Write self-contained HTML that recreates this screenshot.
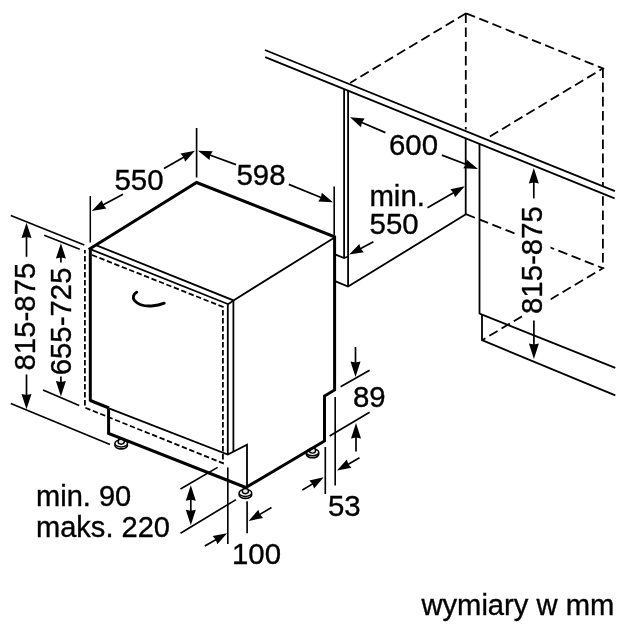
<!DOCTYPE html>
<html><head><meta charset="utf-8"><title>Dimensions</title>
<style>
html,body{margin:0;padding:0;background:#fff;}
svg{display:block;will-change:transform;opacity:0.999;}
text{font-family:"Liberation Sans",sans-serif;fill:#000;stroke:#000;stroke-width:0.35px;}
</style></head><body>
<svg width="625" height="625" viewBox="0 0 625 625">
<rect width="625" height="625" fill="#fff"/>
<ellipse cx="121.2" cy="445.20000000000005" rx="6.3" ry="3.7" fill="#fff" stroke="#000" stroke-width="1.6"/>
<ellipse cx="121.2" cy="443.40000000000003" rx="6.3" ry="3.5" fill="#f4f4f4" stroke="#000" stroke-width="1.5"/>
<ellipse cx="121.2" cy="441.6" rx="3.1" ry="2.6" fill="#e8e8e8" stroke="#000" stroke-width="1.4"/>
<ellipse cx="245.4" cy="494.70000000000005" rx="6.3" ry="3.7" fill="#fff" stroke="#000" stroke-width="1.6"/>
<ellipse cx="245.4" cy="492.90000000000003" rx="6.3" ry="3.5" fill="#f4f4f4" stroke="#000" stroke-width="1.5"/>
<ellipse cx="245.4" cy="491.1" rx="3.1" ry="2.6" fill="#e8e8e8" stroke="#000" stroke-width="1.4"/>
<ellipse cx="312.5" cy="454.1" rx="6.3" ry="3.7" fill="#fff" stroke="#000" stroke-width="1.6"/>
<ellipse cx="312.5" cy="452.3" rx="6.3" ry="3.5" fill="#f4f4f4" stroke="#000" stroke-width="1.5"/>
<ellipse cx="312.5" cy="450.5" rx="3.1" ry="2.6" fill="#e8e8e8" stroke="#000" stroke-width="1.4"/>
<line x1="90.3" y1="248.9" x2="90.3" y2="401.5" stroke="#000" stroke-width="3.0" stroke-linecap="butt"/>
<polyline points="88.7,249.5 196.6,182.5 334.6,236.8 334.6,390 324.5,396 324.5,441 245.8,487.5 108.6,433.5 108.6,408.5" fill="none" stroke="#000" stroke-width="3.0" stroke-linejoin="miter" stroke-linecap="butt"/>
<polyline points="90.3,400.5 109,408" fill="none" stroke="#000" stroke-width="3.0" stroke-linejoin="miter" stroke-linecap="butt"/>
<polyline points="96.5,245.3 233.5,300.4 334.6,237.5" fill="none" stroke="#000" stroke-width="1.8" stroke-linejoin="miter" stroke-linecap="butt"/>
<polyline points="90.7,249.3 227.8,304 227.8,454.6" fill="none" stroke="#000" stroke-width="1.8" stroke-linejoin="miter" stroke-linecap="butt"/>
<line x1="233.4" y1="300.4" x2="233.4" y2="452" stroke="#000" stroke-width="1.8" stroke-linecap="butt"/>
<line x1="227.9" y1="304.2" x2="233.4" y2="300.7" stroke="#000" stroke-width="1.8" stroke-linecap="butt"/>
<polyline points="109,408.3 227.8,454.6 247,444.8 247,487" fill="none" stroke="#000" stroke-width="1.8" stroke-linejoin="miter" stroke-linecap="butt"/>
<polyline points="92,255 222.9,306.9 222.9,463.2 84.9,407.6 84.9,250" fill="none" stroke="#000" stroke-width="1.8" stroke-linejoin="miter" stroke-linecap="butt" stroke-dasharray="5.4 2.6"/>
<path d="M136.7,292.2 C133.4,293.8 132.2,297.6 134.6,300.6 C138.4,305 146,306.3 151.5,306 C156.5,305.7 160.8,304.7 164.2,303.2" fill="none" stroke="#000" stroke-width="2.9" stroke-linecap="round"/>
<line x1="90.3" y1="196" x2="90.3" y2="242.5" stroke="#000" stroke-width="1.5" stroke-linecap="butt"/>
<line x1="196.6" y1="128" x2="196.6" y2="177.5" stroke="#000" stroke-width="1.65" stroke-linecap="butt"/>
<line x1="334.2" y1="186.5" x2="334.2" y2="235" stroke="#000" stroke-width="1.65" stroke-linecap="butt"/>
<text x="114.5" y="189.8" font-size="29.4" text-anchor="start">550</text>
<text x="236.5" y="185.2" font-size="29.4" text-anchor="start">598</text>
<line x1="164" y1="168.4" x2="185.43" y2="156.23" stroke="#000" stroke-width="1.7" stroke-linecap="butt"/>
<polygon points="195,150.8 185.15,161.8 183.69,157.22 180.5,153.62" fill="#000"/>
<line x1="123" y1="194.2" x2="101.49" y2="205.78" stroke="#000" stroke-width="1.7" stroke-linecap="butt"/>
<polygon points="91.8,211 101.9,200.22 103.25,204.84 106.35,208.5" fill="#000"/>
<line x1="236" y1="164.6" x2="208.34" y2="154.55" stroke="#000" stroke-width="1.7" stroke-linecap="butt"/>
<polygon points="198,150.8 212.76,151.16 210.22,155.24 209.55,160.0" fill="#000"/>
<line x1="288.8" y1="184.4" x2="322.8" y2="198.17" stroke="#000" stroke-width="1.7" stroke-linecap="butt"/>
<polygon points="333,202.3 318.26,201.4 320.95,197.42 321.79,192.69" fill="#000"/>
<line x1="10.8" y1="215.4" x2="84.3" y2="245" stroke="#000" stroke-width="1.65" stroke-linecap="butt"/>
<line x1="44.2" y1="235.3" x2="79.8" y2="249.2" stroke="#000" stroke-width="1.65" stroke-linecap="butt"/>
<line x1="43" y1="390" x2="79.2" y2="405.6" stroke="#000" stroke-width="1.65" stroke-linecap="butt"/>
<line x1="10.8" y1="403.5" x2="110" y2="444.5" stroke="#000" stroke-width="1.65" stroke-linecap="butt"/>
<line x1="26.5" y1="256.8" x2="26.5" y2="235.1" stroke="#000" stroke-width="1.7" stroke-linecap="butt"/>
<polygon points="26.5,222.7 31.5,238.1 26.5,237.1 21.5,238.1" fill="#000"/>
<line x1="26.5" y1="374.5" x2="26.5" y2="396.9" stroke="#000" stroke-width="1.7" stroke-linecap="butt"/>
<polygon points="26.5,409.3 21.5,393.9 26.5,394.9 31.5,393.9" fill="#000"/>
<line x1="60.9" y1="262.4" x2="60.9" y2="255.6" stroke="#000" stroke-width="1.7" stroke-linecap="butt"/>
<polygon points="60.9,243.2 65.9,258.6 60.9,257.6 55.9,258.6" fill="#000"/>
<line x1="60.9" y1="376.5" x2="60.9" y2="384.0" stroke="#000" stroke-width="1.7" stroke-linecap="butt"/>
<polygon points="60.9,396.4 55.9,381.0 60.9,382.0 65.9,381.0" fill="#000"/>
<text x="35.2" y="316.6" font-size="29.4" text-anchor="middle" transform="rotate(-90 35.2 316.6)">815-875</text>
<text x="71.4" y="321.4" font-size="29.4" text-anchor="middle" transform="rotate(-90 71.4 321.4)">655-725</text>
<line x1="180.5" y1="489" x2="217.6" y2="467.4" stroke="#000" stroke-width="1.65" stroke-linecap="butt"/>
<line x1="180.5" y1="533.3" x2="236" y2="499.6" stroke="#000" stroke-width="1.65" stroke-linecap="butt"/>
<line x1="190.8" y1="500" x2="190.8" y2="497.7" stroke="#000" stroke-width="1.7" stroke-linecap="butt"/>
<polygon points="190.8,485.3 195.8,500.7 190.8,499.7 185.8,500.7" fill="#000"/>
<line x1="190.8" y1="500" x2="190.8" y2="512.8" stroke="#000" stroke-width="1.7" stroke-linecap="butt"/>
<polygon points="190.8,525.2 185.8,509.8 190.8,510.8 195.8,509.8" fill="#000"/>
<text x="36" y="506" font-size="29.05" text-anchor="start">min. 90</text>
<text x="36" y="537" font-size="29.05" text-anchor="start">maks. 220</text>
<line x1="227.8" y1="467.4" x2="227.8" y2="544" stroke="#000" stroke-width="1.65" stroke-linecap="butt"/>
<line x1="247.1" y1="501.2" x2="247.1" y2="533.2" stroke="#000" stroke-width="1.65" stroke-linecap="butt"/>
<line x1="204.8" y1="546" x2="217.56" y2="538.68" stroke="#000" stroke-width="1.7" stroke-linecap="butt"/>
<polygon points="227.1,533.2 217.3,544.25 215.83,539.67 212.62,536.09" fill="#000"/>
<line x1="271.5" y1="507.6" x2="258.11" y2="515.38" stroke="#000" stroke-width="1.7" stroke-linecap="butt"/>
<polygon points="248.6,520.9 258.35,509.8 259.84,514.37 263.07,517.93" fill="#000"/>
<text x="232" y="564" font-size="29.4" text-anchor="start">100</text>
<line x1="335.2" y1="397" x2="335.2" y2="485.5" stroke="#000" stroke-width="1.65" stroke-linecap="butt"/>
<line x1="325.3" y1="447" x2="325.3" y2="494" stroke="#000" stroke-width="1.65" stroke-linecap="butt"/>
<line x1="340.6" y1="386.8" x2="369.6" y2="370.2" stroke="#000" stroke-width="1.65" stroke-linecap="butt"/>
<line x1="329.6" y1="436" x2="369.6" y2="412.2" stroke="#000" stroke-width="1.65" stroke-linecap="butt"/>
<line x1="355.5" y1="347" x2="355.5" y2="364.6" stroke="#000" stroke-width="1.7" stroke-linecap="butt"/>
<polygon points="355.5,377 350.5,361.6 355.5,362.6 360.5,361.6" fill="#000"/>
<line x1="356" y1="451.4" x2="356.0" y2="435.4" stroke="#000" stroke-width="1.7" stroke-linecap="butt"/>
<polygon points="356,423 361.0,438.4 356.0,437.4 351.0,438.4" fill="#000"/>
<line x1="359.5" y1="457.8" x2="346.56" y2="465.16" stroke="#000" stroke-width="1.7" stroke-linecap="butt"/>
<polygon points="337,470.6 346.84,459.59 348.3,464.17 351.49,467.76" fill="#000"/>
<line x1="302.4" y1="490" x2="314.27" y2="482.87" stroke="#000" stroke-width="1.7" stroke-linecap="butt"/>
<polygon points="323.7,477.2 314.12,488.44 312.56,483.9 309.28,480.38" fill="#000"/>
<text x="353" y="407" font-size="29.4" text-anchor="start">89</text>
<text x="328" y="516.2" font-size="29.4" text-anchor="start">53</text>
<line x1="344.1" y1="89.2" x2="344.1" y2="258" stroke="#000" stroke-width="1.8" stroke-linecap="butt"/>
<line x1="348.1" y1="91" x2="348.1" y2="286.6" stroke="#000" stroke-width="1.8" stroke-linecap="butt"/>
<polyline points="335,254.4 344.1,258.1 348.1,256.5" fill="none" stroke="#000" stroke-width="1.8" stroke-linejoin="miter" stroke-linecap="butt"/>
<polyline points="335,281.2 348.1,286.6 465.9,214.2" fill="none" stroke="#000" stroke-width="1.8" stroke-linejoin="miter" stroke-linecap="butt"/>
<line x1="465.7" y1="138" x2="465.7" y2="214.2" stroke="#000" stroke-width="1.8" stroke-linecap="butt"/>
<line x1="479.5" y1="143.7" x2="479.5" y2="314" stroke="#000" stroke-width="1.8" stroke-linecap="butt"/>
<polyline points="479.5,313.6 615.3,367.9" fill="none" stroke="#000" stroke-width="1.8" stroke-linejoin="miter" stroke-linecap="butt"/>
<polyline points="482,314.5 482,340.2 615.3,395.3" fill="none" stroke="#000" stroke-width="1.8" stroke-linejoin="miter" stroke-linecap="butt"/>
<polyline points="466.1,13.3 350.1,82.9" fill="none" stroke="#000" stroke-width="1.8" stroke-linejoin="miter" stroke-linecap="butt" stroke-dasharray="9.6 4.6"/>
<polyline points="466.1,13.3 602.9,68.4 486.4,138.6" fill="none" stroke="#000" stroke-width="1.8" stroke-linejoin="miter" stroke-linecap="butt" stroke-dasharray="9.6 4.6"/>
<line x1="465.8" y1="13.3" x2="465.8" y2="129.6" stroke="#000" stroke-width="1.8" stroke-linecap="butt" stroke-dasharray="9.6 4.6"/>
<line x1="602.9" y1="68.4" x2="602.9" y2="268.2" stroke="#000" stroke-width="1.8" stroke-linecap="butt" stroke-dasharray="9.6 4.6"/>
<polyline points="465.9,214.2 602.9,268.2 482,340.2" fill="none" stroke="#000" stroke-width="1.8" stroke-linejoin="miter" stroke-linecap="butt" stroke-dasharray="9.6 4.6"/>
<polygon points="264.9,50 614.9,191.2 614.6,198.4 265.2,57.2" fill="#fff"/>
<line x1="264.9" y1="50" x2="614.9" y2="191.2" stroke="#000" stroke-width="1.85" stroke-linecap="butt"/>
<line x1="265.2" y1="57.2" x2="614.6" y2="198.4" stroke="#000" stroke-width="1.85" stroke-linecap="butt"/>
<line x1="385.4" y1="132.6" x2="360.1" y2="121.66" stroke="#000" stroke-width="1.7" stroke-linecap="butt"/>
<polygon points="350,117.3 364.72,118.54 361.93,122.46 360.99,127.17" fill="#000"/>
<line x1="441.9" y1="155.1" x2="467.73" y2="164.97" stroke="#000" stroke-width="1.7" stroke-linecap="butt"/>
<polygon points="478,168.9 463.24,168.29 465.86,164.26 466.6,159.51" fill="#000"/>
<text x="389" y="155" font-size="29.4" text-anchor="start">600</text>
<text x="369.4" y="205.5" font-size="29.4" text-anchor="start">min.</text>
<text x="369.6" y="234.4" font-size="29.4" text-anchor="start">550</text>
<line x1="373.4" y1="241.8" x2="358.92" y2="249.46" stroke="#000" stroke-width="1.7" stroke-linecap="butt"/>
<polygon points="349.2,254.6 359.38,243.9 360.69,248.52 363.77,252.21" fill="#000"/>
<line x1="427.5" y1="207.8" x2="455.27" y2="191.79" stroke="#000" stroke-width="1.7" stroke-linecap="butt"/>
<polygon points="464.8,186.3 455.02,197.36 453.54,192.79 450.32,189.22" fill="#000"/>
<line x1="533.8" y1="198.4" x2="533.8" y2="180.4" stroke="#000" stroke-width="1.7" stroke-linecap="butt"/>
<polygon points="533.8,168 538.8,183.4 533.8,182.4 528.8,183.4" fill="#000"/>
<line x1="533.9" y1="320.4" x2="533.9" y2="346.6" stroke="#000" stroke-width="1.7" stroke-linecap="butt"/>
<polygon points="533.9,359 528.9,343.6 533.9,344.6 538.9,343.6" fill="#000"/>
<rect x="517.5" y="203" width="33" height="112" fill="#fff"/>
<text x="541.8" y="260.1" font-size="29.4" text-anchor="middle" transform="rotate(-90 541.8 260.1)">815-875</text>
<text x="421.4" y="614.5" font-size="29.2" text-anchor="start">wymiary w mm</text>
</svg>
</body></html>
